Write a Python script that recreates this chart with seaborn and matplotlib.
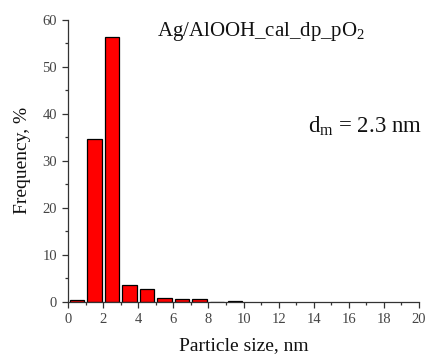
import numpy as np
import matplotlib
matplotlib.use("Agg")
import matplotlib.pyplot as plt
from matplotlib.ticker import MultipleLocator
import seaborn as sns

# particle size histogram (1 nm bins)
bin_edges = [0, 1, 2, 3, 4, 5, 6, 7, 8, 9, 10]
bin_centers = [0.5, 1.5, 2.5, 3.5, 4.5, 5.5, 6.5, 7.5, 8.5, 9.5]
frequency = [0.4, 34.7, 56.3, 3.5, 2.7, 0.9, 0.6, 0.6, 0.0, 0.15]

sample_name = "Ag/AlOOH_cal_dp_pO$_2$"
mean_size = "d$_\\mathrm{m}$ = 2.3 nm"

sns.set_style("ticks")
plt.rcParams['font.family'] = ['Liberation Serif', 'DejaVu Serif']
plt.rcParams['mathtext.fontset'] = 'custom'
plt.rcParams['mathtext.rm'] = 'Liberation Serif'
plt.rcParams['mathtext.it'] = 'Liberation Serif'

fig = plt.figure(figsize=(4.28, 3.56), dpi=100)
ax = fig.add_axes([0.159, 0.152, 0.820, 0.792])

sns.histplot(x=bin_centers, weights=frequency, bins=bin_edges, shrink=0.82,
             color='#ff0000', alpha=1, edgecolor='black', linewidth=0.9, ax=ax)

ax.set_xlim(0, 20)
ax.set_ylim(0, 60)
ax.xaxis.set_major_locator(MultipleLocator(2))
ax.xaxis.set_minor_locator(MultipleLocator(1))
ax.yaxis.set_major_locator(MultipleLocator(10))
ax.yaxis.set_minor_locator(MultipleLocator(5))
ax.tick_params(which='major', length=4.5, width=0.9, labelsize=10.5, colors='#333333', labelcolor='#444444')
ax.tick_params(which='minor', length=2.5, width=0.9, colors='#333333')
sns.despine(ax=ax)
for s in ['left', 'bottom']:
    ax.spines[s].set_linewidth(0.9)
    ax.spines[s].set_color('#333333')

ax.set_xlabel('Particle size, nm', fontsize=14, color='#111111', labelpad=8)
ax.set_ylabel('Frequency, %', fontsize=14, color='#111111', labelpad=8)

ax.text(0.254, 0.943, sample_name, transform=ax.transAxes, fontsize=15,
        va='baseline', ha='left', color='#111111')
ax.text(1.008, 0.60, mean_size, transform=ax.transAxes, fontsize=16.5,
        va='baseline', ha='right', color='#111111')

fig.savefig('out.png', dpi=100)
